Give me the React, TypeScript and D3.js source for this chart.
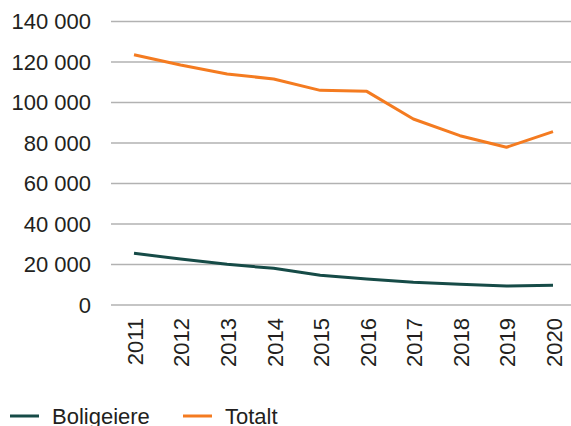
import React from "react";
import * as d3 from "d3";

const years = ["2011", "2012", "2013", "2014", "2015", "2016", "2017", "2018", "2019", "2020"];
const boligeiere = [25500, 22700, 20100, 18100, 14650, 12840, 11200, 10200, 9380, 9700];
const totalt = [123600, 118500, 114100, 111600, 106000, 105500, 91850, 83600, 77900, 85600];
const yTicks = [0, 20000, 40000, 60000, 80000, 100000, 120000, 140000];
const seriesNames = ["Boligeiere", "Totalt"];
const colors = ["#164b47", "#f47b20"];

const W = 571;
const H = 426;
const left = 111;
const right = 577;
const top = 21.5;
const bottom = 305;

export default function App() {
  const x = d3.scalePoint<string>().domain(years).range([134, 553]);
  const y = d3.scaleLinear().domain([0, 140000]).range([bottom, top]);
  const line = d3
    .line<number>()
    .x((_, i) => x(years[i]) as number)
    .y((d) => y(d));
  const fmt = (v: number) => d3.format(",")(v).replace(/,/g, " ");
  const font = "'Liberation Sans', Arial, Helvetica, sans-serif";
  const series = [boligeiere, totalt];
  const legendX = [10, 183];
  return (
    <svg
      width={W}
      height={H}
      style={{ position: "fixed", left: 0, top: 0, background: "#fff" }}
      fontFamily={font}
    >
      {yTicks.map((t) => (
        <g key={t}>
          <line x1={left} x2={right} y1={y(t)} y2={y(t)} stroke="#b2b2b2" strokeWidth={1.3} />
          <text x={91} y={y(t)} dy="0.36em" textAnchor="end" fontSize={22} fill="#231f20">
            {fmt(t)}
          </text>
        </g>
      ))}
      {years.map((yr) => (
        <text
          key={yr}
          transform={`translate(${(x(yr) as number) + 1},${bottom + 13}) rotate(-90)`}
          dy="0.36em"
          textAnchor="end"
          fontSize={22}
          fill="#231f20"
        >
          {yr}
        </text>
      ))}
      {series.map((s, i) => (
        <path
          key={i}
          d={line(s) as string}
          fill="none"
          stroke={colors[i]}
          strokeWidth={3}
          strokeLinejoin="round"
        />
      ))}
      {seriesNames.map((n, i) => (
        <g key={n}>
          <line x1={legendX[i]} x2={legendX[i] + 29} y1={416} y2={416} stroke={colors[i]} strokeWidth={3} />
          <text x={legendX[i] + 42} y={416} dy="0.36em" fontSize={22} fill="#231f20">
            {n}
          </text>
        </g>
      ))}
    </svg>
  );
}
